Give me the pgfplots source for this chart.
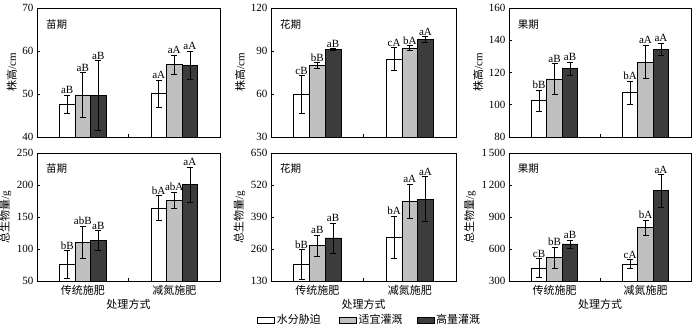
\documentclass[border=0pt]{standalone}
\usepackage{pgfplots}
\usepackage{pgfplotstable}
\pgfplotsset{compat=1.18}
\usepackage{fontspec}
\setmainfont{Liberation Serif}
\newfontfamily\cjk{Noto Sans CJK SC}
\definecolor{gbar}{RGB}{192,192,192}
\definecolor{dbar}{RGB}{60,60,60}

\pgfplotstableread{
x w we g ge d de lw lg ld
1 47.6 2.1 49.8 5.2 49.7 8.1 aB aB aB
2 50.1 3.2 56.8 2.3 56.7 3.3 aA aA aA
}\tA
\pgfplotstableread{
x w we g ge d de lw lg ld
1 59.5 13.2 80.0 2.1 91.0 0.7 cB bB aB
2 84.5 7.9 92.1 1.8 98.0 2.2 cA bA aA
}\tB
\pgfplotstableread{
x w we g ge d de lw lg ld
1 102.5 6.5 116.0 9.7 122.5 4.1 bB aB aB
2 107.5 7.2 126.5 10.4 134.3 3.9 bA aA aA
}\tC
\pgfplotstableread{
x w we g ge d de lw lg ld
1 75.5 21.9 110.4 25.5 113.0 15.8 bB abB aB
2 164.0 19.5 176.5 12.5 200.5 27.4 bA abA aA
}\tD
\pgfplotstableread{
x w we g ge d de lw lg ld
1 197.7 61 273.5 44 304.7 60.3 bB aB aB
2 308.7 86 453.6 69.7 463 90.7 bA aA aA
}\tE
\pgfplotstableread{
x w we g ge d de lw lg ld
1 422 89 519 97 647 37.5 cB bB aB
2 459 40.6 800 70.3 1147 151.5 cA bA aA
}\tF

\pgfplotsset{
  panel/.style={
    scale only axis,
    anchor=south west,
    xmin=0.5, xmax=2.5,
    xtick={1.5}, xticklabels={},
    xtick pos=bottom, ytick pos=left,
    tick align=inside,
    major tick length=3bp,
    axis line style={black, line width=0.6bp},
    every tick/.style={black, line width=0.6bp},
    tick label style={font=\fontsize{11bp}{13bp}\selectfont},
    label style={font=\fontsize{11bp}{13bp}\selectfont},
    /pgf/number format/assume math mode=true,
    /pgf/number format/1000 sep={\,},
    scaled y ticks=false,
    ylabel style={yshift=-1bp},
  },
  bottomrow/.style={
    extra x ticks={1,2},
    extra x tick labels={{\cjk 传统施肥},{\cjk 减氮施肥}},
    extra x tick style={major tick length=0pt, tick label style={font=\fontsize{11bp}{13bp}\selectfont, yshift=-1bp}},
    xlabel={\cjk 处理方式},
    xlabel style={yshift=3bp},
  },
  barbase/.style={ybar, bar width=0.17, draw=black, line width=0.6bp, area legend},
  err/.style={draw=none, mark=none, forget plot,
    error bars/.cd, y dir=both, y explicit,
    error bar style={black, line width=0.6bp},
    error mark options={rotate=90, mark size=3bp, black, line width=0.6bp}},
  lab/.style={draw=none, mark=none, nodes near coords, point meta=explicit symbolic,
    nodes near coords style={anchor=south, inner sep=1bp, font=\fontsize{11bp}{12bp}\selectfont}, forget plot},
}

\newcommand{\panelplots}[2]{%
  \addplot[barbase, bar shift=-0.17, fill=white] table[x=x, y=w] {#1};
  \addplot[barbase, bar shift=0, fill=gbar] table[x=x, y=g] {#1};
  \addplot[barbase, bar shift=0.17, fill=dbar] table[x=x, y=d] {#1};
  \addplot[err] table[x expr=\thisrow{x}-0.17, y=w, y error=we] {#1};
  \addplot[err] table[x expr=\thisrow{x}, y=g, y error=ge] {#1};
  \addplot[err] table[x expr=\thisrow{x}+0.17, y=d, y error=de] {#1};
  \addplot[lab] table[x expr=\thisrow{x}-0.17, y expr=\thisrow{w}+\thisrow{we}, meta=lw] {#1};
  \addplot[lab] table[x expr=\thisrow{x}, y expr=\thisrow{g}+\thisrow{ge}, meta=lg] {#1};
  \addplot[lab] table[x expr=\thisrow{x}+0.17, y expr=\thisrow{d}+\thisrow{de}, meta=ld] {#1};
  \node[anchor=west, font=\cjk\fontsize{10.5bp}{12bp}\selectfont] at (rel axis cs:0.03,0.875) {#2};
}

\begin{document}
\begin{tikzpicture}
\path[use as bounding box] (0,0) rectangle (700bp,330bp);

% top row
\begin{axis}[panel, at={(37bp,193bp)}, width=183bp, height=129bp,
  ymin=40, ymax=70, ytick={40,50,60,70}, ylabel={{\cjk 株高}/cm}]
\panelplots{\tA}{苗期}
\end{axis}
\begin{axis}[panel, at={(271bp,193bp)}, width=185bp, height=129bp,
  ymin=30, ymax=120, ytick={30,60,90,120}, ylabel={{\cjk 株高}/cm}]
\panelplots{\tB}{花期}
\end{axis}
\begin{axis}[panel, at={(509bp,193bp)}, width=182bp, height=129bp,
  ymin=80, ymax=160, ytick={80,100,120,140,160}, ylabel={{\cjk 株高}/cm}]
\panelplots{\tC}{果期}
\end{axis}

% bottom row
\begin{axis}[panel, bottomrow, at={(37bp,49bp)}, width=183bp, height=128bp,
  ymin=50, ymax=250, ytick={50,100,150,200,250}, ylabel={{\cjk 总生物量}/g}]
\panelplots{\tD}{苗期}
\end{axis}
\begin{axis}[panel, bottomrow, at={(271bp,49bp)}, width=185bp, height=128bp,
  ymin=130, ymax=650, ytick={130,260,390,520,650}, ylabel={{\cjk 总生物量}/g},
  legend columns=3,
  legend style={draw=none, at={(-0.075,-0.305)}, anchor=west, fill=none, inner sep=0pt,
    font=\cjk\fontsize{11bp}{12bp}\selectfont, column sep=0pt},
  legend image code/.code={\draw[#1, line width=0.6bp] (0bp,-4.5bp) rectangle (14bp,4.5bp);}]
\panelplots{\tE}{花期}
\legend{\makebox[60bp][l]{水分胁迫},\makebox[56bp][l]{适宜灌溉},\makebox[50bp][l]{高量灌溉}}
\end{axis}
\begin{axis}[panel, bottomrow, at={(509bp,49bp)}, width=182bp, height=128bp,
  ymin=300, ymax=1500, ytick={300,600,900,1200,1500}, ylabel={{\cjk 总生物量}/g}]
\panelplots{\tF}{果期}
\end{axis}
\end{tikzpicture}
\end{document}
